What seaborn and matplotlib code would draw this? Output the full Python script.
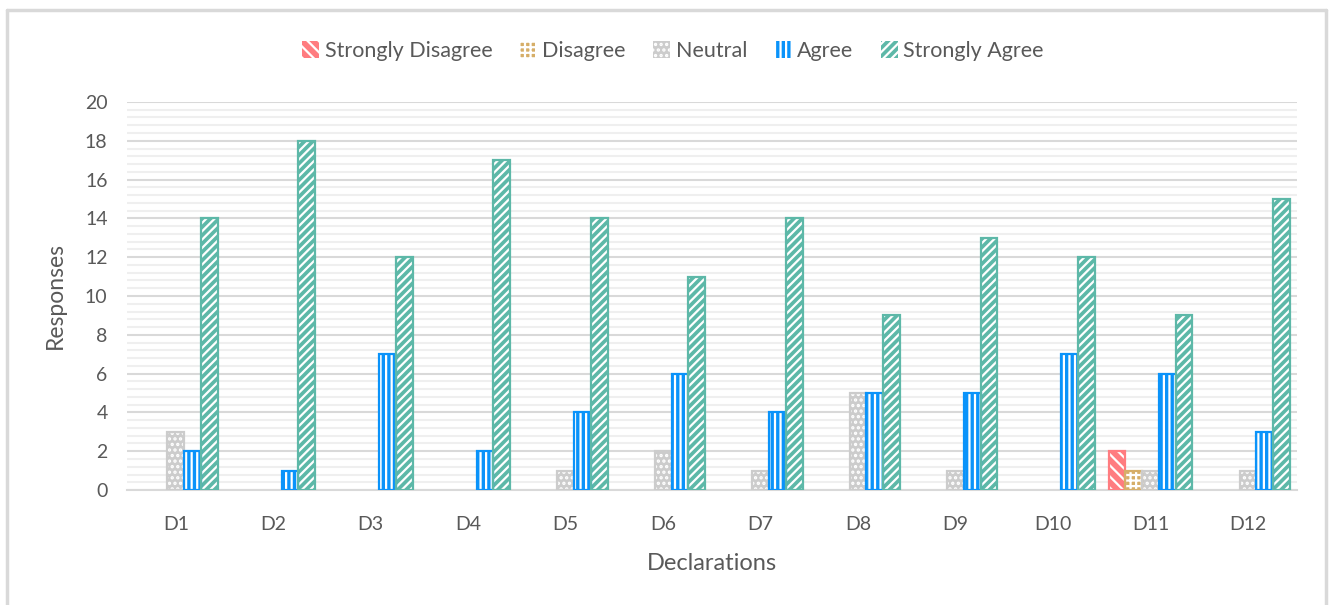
import numpy as np
import pandas as pd
import matplotlib
matplotlib.use("Agg")
import matplotlib.pyplot as plt
from matplotlib.patches import Rectangle, Patch
from matplotlib.lines import Line2D
from matplotlib.ticker import MultipleLocator
import seaborn as sns

declarations = ["D1", "D2", "D3", "D4", "D5", "D6", "D7", "D8", "D9", "D10", "D11", "D12"]
levels = ["Strongly Disagree", "Disagree", "Neutral", "Agree", "Strongly Agree"]
strongly_disagree = [0, 0, 0, 0, 0, 0, 0, 0, 0, 0, 2, 0]
disagree = [0, 0, 0, 0, 0, 0, 0, 0, 0, 0, 1, 0]
neutral = [3, 0, 0, 0, 1, 2, 1, 5, 1, 0, 1, 1]
agree = [2, 1, 7, 2, 4, 6, 4, 5, 5, 7, 6, 3]
strongly_agree = [14, 18, 12, 17, 14, 11, 14, 9, 13, 12, 9, 15]

colors = ["#FF7C80", "#D6AE68", "#CCCCCC", "#0A93FA", "#5DB8A8"]
hatches = ["\\\\\\", "+++", "...", "|||", "////"]

series = [strongly_disagree, disagree, neutral, agree, strongly_agree]
df = pd.DataFrame({
    "Declaration": np.repeat([declarations], len(levels), axis=0).ravel(),
    "Level": np.repeat(levels, len(declarations)),
    "Responses": np.concatenate(series),
})

sns.set_theme(style="white")
plt.rcParams["font.family"] = ["Lato", "DejaVu Sans"]
plt.rcParams["hatch.linewidth"] = 1.6
text_color = "#595959"

fig = plt.figure(figsize=(13.3, 6.05), dpi=100)
ax = fig.add_axes([0.0955, 0.19, 0.8795, 0.6415])

sns.barplot(data=df, x="Declaration", y="Responses", hue="Level",
            hue_order=levels, order=declarations, palette=colors,
            width=0.86, dodge=True, legend=False, ax=ax, zorder=3)

# Pattern fill with white hatch lines and a solid coloured outline
for i, container in enumerate(ax.containers):
    for bar in container:
        bar.set_facecolor(colors[i])
        bar.set_edgecolor("white")
        bar.set_hatch(hatches[i])
        bar.set_linewidth(0)
        h = bar.get_height()
        if h > 0:
            ax.add_patch(Rectangle(bar.get_xy(), bar.get_width(), h, fill=False,
                                   edgecolor=colors[i], linewidth=1.6, zorder=4))
        else:
            bar.set_visible(False)

ax.set_ylim(0, 20)
ax.set_xlim(-0.5, len(declarations) - 0.5)
ax.yaxis.set_major_locator(MultipleLocator(2))
ax.yaxis.set_minor_locator(MultipleLocator(0.4))
ax.grid(which="major", axis="y", color="#D9D9D9", linewidth=1.5, zorder=0)
ax.grid(which="minor", axis="y", color="#EFEFEF", linewidth=1.5, zorder=0)
ax.set_axisbelow(True)
for side in ["top", "right", "left"]:
    ax.spines[side].set_visible(False)
ax.spines["bottom"].set_color("#D9D9D9")
ax.spines["bottom"].set_linewidth(1.5)
ax.tick_params(axis="both", which="both", length=0, labelsize=14,
               labelcolor=text_color)
ax.tick_params(axis="x", pad=19)
ax.tick_params(axis="y", pad=14)

ax.set_xlabel("Declarations", fontsize=17, color=text_color, labelpad=14)
ax.set_ylabel("Responses", fontsize=16.5, color=text_color, labelpad=14)

handles = [Patch(facecolor=c, edgecolor="white", hatch=h, linewidth=0)
           for c, h in zip(colors, hatches)]
fig.legend(handles, levels, loc="center", bbox_to_anchor=(0.506, 0.916), ncol=5,
           frameon=False, fontsize=15.5, labelcolor=text_color,
           handlelength=0.8, handleheight=0.8, handletextpad=0.25, columnspacing=1.27)

# Light chart frame
frame_kw = dict(color="#D9D9D9", linewidth=2.5, transform=fig.transFigure)
fig.add_artist(Line2D([0.0056, 0.0056], [0.0, 0.983], **frame_kw))
fig.add_artist(Line2D([0.0056, 0.9967], [0.983, 0.983], **frame_kw))
fig.add_artist(Line2D([0.9967, 0.9967], [0.0, 0.983], **frame_kw))

fig.savefig("out.png", dpi=100)
